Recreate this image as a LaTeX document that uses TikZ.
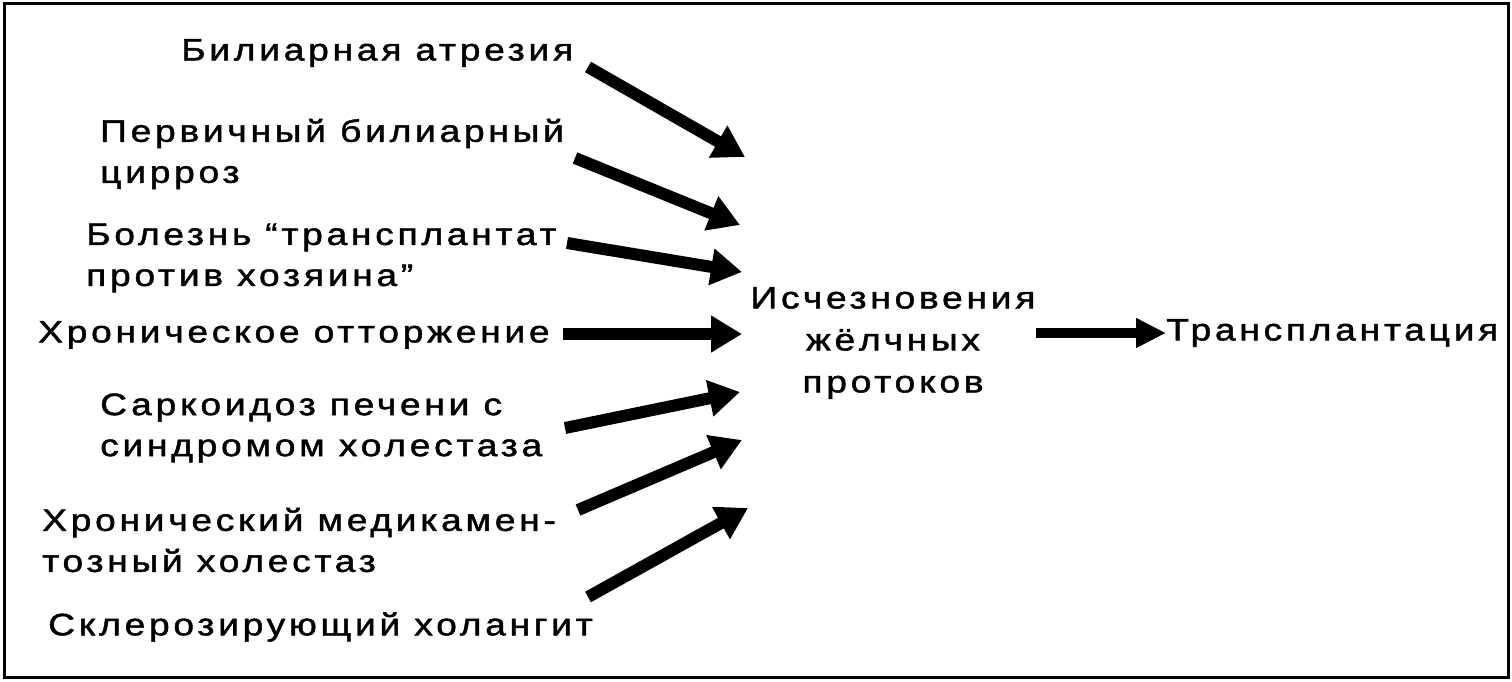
\documentclass[tikz,border=0pt]{standalone}
\usepackage{fontspec}
\setmainfont{Liberation Sans}[FakeStretch=1.2, FakeBold=1.5, LetterSpace=12]
\usetikzlibrary{arrows.meta}
\begin{document}
\begin{tikzpicture}[x=1pt,y=-1pt,
  lbl/.style={inner sep=0pt, anchor=west, align=left, font=\fontsize{31}{41}\selectfont},
  mid/.style={inner sep=0pt, anchor=center, align=center, font=\fontsize{31}{42}\selectfont},
  fat/.style={line width=12pt, -{Triangle[length=31pt,width=35pt]}},
  fatb/.style={line width=10pt, -{Triangle[length=30pt,width=28pt]}}]
\useasboundingbox (0,0) rectangle (1512,682);
\draw[line width=3pt] (4,4) rectangle (1508,677);
\node[lbl] (b1) at (181,53) {Билиарная атрезия};
\node[lbl] (b2) at (100,154) {Первичный билиарный\\цирроз};
\node[lbl] (b3) at (86,258) {Болезнь “трансплантат\\против хозяина”};
\node[lbl] (b4) at (38,335) {Хроническое отторжение};
\node[lbl] (b5) at (100,428) {Саркоидоз печени с\\синдромом холестаза};
\node[lbl] (b6) at (42,540) {Хронический медикамен-\\тозный холестаз};
\node[lbl] (b7) at (48,627) {Склерозирующий холангит};
\node[mid] (c) at (893,343) {Исчезновения\\жёлчных\\протоков};
\node[lbl] (tr) at (1166,333) {Трансплантация};
\coordinate (s1) at (588,67);  \coordinate (t1) at (745,157);
\coordinate (s2) at (575,158); \coordinate (t2) at (740,225);
\coordinate (s3) at (567,243); \coordinate (t3) at (742,272);
\coordinate (s4) at (563,334); \coordinate (t4) at (742,334);
\coordinate (s5) at (565,428); \coordinate (t5) at (740,392);
\coordinate (s6) at (578,510); \coordinate (t6) at (742,440);
\coordinate (s7) at (588,597); \coordinate (t7) at (748,508);
\foreach \i in {1,...,7} {\draw[fat] (s\i) -- (t\i);}
\draw[fatb] (c.east |- tr.west) -- (tr.west);
\end{tikzpicture}
\end{document}
